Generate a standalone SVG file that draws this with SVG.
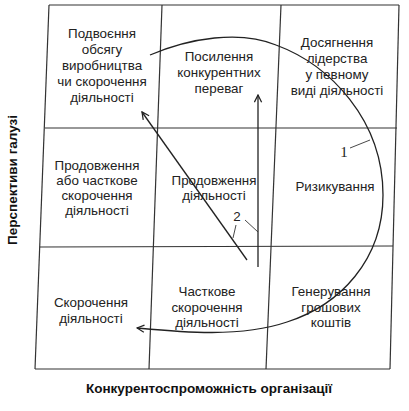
<svg xmlns="http://www.w3.org/2000/svg" width="409" height="411" viewBox="0 0 409 411">
<defs>
<style>
.t{font-family:"Liberation Sans",Arial,sans-serif;font-size:13.4px;fill:#222;text-anchor:middle;dominant-baseline:central}
.ax{font-family:"Liberation Sans",Arial,sans-serif;font-size:13.5px;font-weight:bold;fill:#111;text-anchor:middle;dominant-baseline:central}
.num{font-family:"Liberation Serif","Times New Roman",serif;font-size:15px;fill:#222;text-anchor:middle;dominant-baseline:central}
.g{stroke:#333;stroke-width:1.2;fill:none}
.c{stroke:#222;stroke-width:1.3;fill:none}
.l{stroke:#333;stroke-width:0.9;fill:none}
</style>
<marker id="ah" viewBox="0 0 10 10" refX="9" refY="5" markerWidth="9" markerHeight="9" markerUnits="userSpaceOnUse" orient="auto">
<path d="M1,1 L9,5 L1,9" fill="none" stroke="#222" stroke-width="1.4"/>
</marker>
</defs>
<rect width="409" height="411" fill="#fff"/>
<g id="grid">
<line class="g" x1="49" y1="5" x2="399" y2="5"/>
<line class="g" x1="49" y1="5" x2="35" y2="369"/>
<line class="g" x1="162" y1="5" x2="149" y2="369"/>
<line class="g" x1="281" y1="5" x2="266" y2="369"/>
<line class="g" x1="399" y1="5" x2="390" y2="369"/>
<line class="g" x1="45" y1="128" x2="397" y2="128"/>
<line class="g" x1="40" y1="247" x2="393" y2="246"/>
<line class="g" x1="35" y1="369" x2="390" y2="369"/>
</g>
<g id="cell-tl">
<text class="t" x="102" y="33">Подвоєння</text>
<text class="t" x="102" y="49">обсягу</text>
<text class="t" x="102" y="65">виробництва</text>
<text class="t" x="102" y="81">чи скорочення</text>
<text class="t" x="102" y="97">діяльності</text>
</g>
<g id="cell-tm">
<text class="t" x="219" y="56">Посилення</text>
<text class="t" x="219" y="72">конкурентних</text>
<text class="t" x="219" y="88">переваг</text>
</g>
<g id="cell-tr">
<text class="t" x="337" y="42">Досягнення</text>
<text class="t" x="337" y="58">лідерства</text>
<text class="t" x="337" y="74">у певному</text>
<text class="t" x="337" y="90">виді діяльності</text>
</g>
<g id="cell-ml">
<text class="t" x="97" y="165">Продовження</text>
<text class="t" x="97" y="180">або часткове</text>
<text class="t" x="97" y="195">скорочення</text>
<text class="t" x="97" y="210">діяльності</text>
</g>
<g id="cell-mm">
<text class="t" x="214" y="180">Продовження</text>
<text class="t" x="214" y="195">діяльності</text>
</g>
<g id="cell-mr">
<text class="t" x="335" y="186">Ризикування</text>
</g>
<g id="cell-bl">
<text class="t" x="91" y="302">Скорочення</text>
<text class="t" x="91" y="318">діяльності</text>
</g>
<g id="cell-bm">
<text class="t" x="207" y="291">Часткове</text>
<text class="t" x="207" y="307">скорочення</text>
<text class="t" x="207" y="322">діяльності</text>
</g>
<g id="cell-br">
<text class="t" x="331" y="291">Генерування</text>
<text class="t" x="331" y="307">грошових</text>
<text class="t" x="331" y="322">коштів</text>
</g>
<g id="axes">
<text class="ax" x="209" y="388">Конкурентоспроможність організації</text>
<text class="ax" transform="translate(12,180) rotate(-90)">Перспективи галузі</text>
</g>
<g id="connectors">
<path class="c" d="M150,55 C190,38 240,30 276,45 C330,65 383,120 383,195 C383,260 340,305 287,322 C240,338 180,332 137,328" marker-end="url(#ah)"/>
<line class="c" x1="247" y1="260" x2="142" y2="112" marker-end="url(#ah)"/>
<line class="c" x1="258" y1="267" x2="258" y2="95" marker-end="url(#ah)"/>
<line class="l" x1="350" y1="148" x2="370" y2="140"/>
<line class="l" x1="236" y1="225" x2="233" y2="238"/>
<line class="l" x1="245" y1="220" x2="258" y2="232"/>
</g>
<g id="labels">
<text class="num" x="344" y="152">1</text>
<text class="t" x="237" y="216">2</text>
</g>
</svg>
